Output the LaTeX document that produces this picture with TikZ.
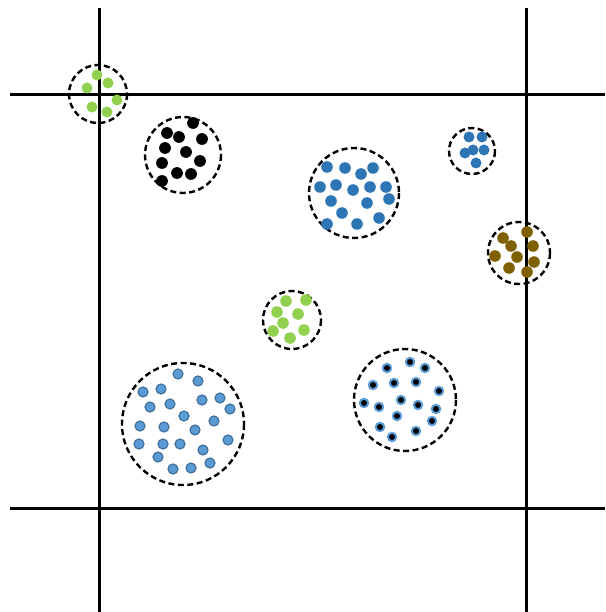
\documentclass[tikz,border=0pt]{standalone}
\usepackage{amsmath,amssymb}
\usepackage{tikz}

\definecolor{lgreen}{RGB}{146,208,80}
\definecolor{mblue}{RGB}{46,117,182}
\definecolor{pblue}{RGB}{91,155,213}
\definecolor{oblue}{RGB}{65,113,156}
\definecolor{brown}{RGB}{127,96,0}

\begin{document}
\begin{tikzpicture}[x=1pt,y=-1pt,
  cluster/.style={draw=black,line width=2.4pt,dash pattern=on 6pt off 3.5pt},
  grid/.style={draw=black,line width=3pt}]
\useasboundingbox (0,0) rectangle (605,612);
% cells
\draw[grid] (99,8) -- (99,612);
\draw[grid] (526,8) -- (526,612);
\draw[grid] (10,95) -- (605,95);
\draw[grid] (10,508) -- (605,508);
% dashed clusters
\draw[cluster] (98,94) circle (29);
\draw[cluster] (183,155) circle (38);
\draw[cluster] (354,193) circle (45);
\draw[cluster] (472,151) circle (23);
\draw[cluster] (519,253) circle (31);
\draw[cluster] (292,320) circle (29);
\draw[cluster] (183,424) circle (61);
\draw[cluster] (405,400) circle (51);
% points
\foreach \p in {(97,75),(108,83),(87,88),(117,100),(92,107),(107,112)}
  \fill[lgreen] \p circle (5.5);
\foreach \p in {(193,123),(167,133),(179,137),(202,139),(165,148),(186,152),
  (162,163),(200,161),(177,173),(191,174),(162,181)}
  \fill[black] \p circle (5.9);
\foreach \p in {(327,167),(345,168),(361,174),(373,168),(320,187),(336,185),
  (353,190),(370,187),(386,187),(331,201),(367,203),(389,199),(342,213),
  (379,218),(327,224),(357,224)}
  \fill[mblue] \p circle (5.8);
\foreach \p in {(469,137),(482,137),(465,153),(473,150),(484,150),(476,163)}
  \fill[mblue] \p circle (5.5);
\foreach \p in {(503,238),(527,232),(511,246),(533,246),(495,256),(517,257),
  (534,262),(509,268),(527,272)}
  \fill[brown] \p circle (5.8);
\foreach \p in {(286,301),(306,300),(277,312),(298,314),(283,323),(304,330),
  (273,331),(290,338)}
  \fill[lgreen] \p circle (5.8);
\foreach \p in {(178,374),(198,381),(143,392),(161,389),(150,407),(170,404),
  (202,400),(220,398),(230,409),(184,416),(214,421),(140,426),(164,427),
  (195,430),(228,440),(139,444),(163,444),(180,444),(203,450),(158,457),
  (173,469),(191,468),(210,463)}
  \filldraw[fill=pblue,draw=oblue,line width=1.2pt] \p circle (5);
\foreach \p in {(410,362),(387,368),(425,368),(373,385),(394,383),(416,382),
  (439,391),(364,403),(379,407),(401,400),(418,405),(436,409),(397,416),
  (432,421),(380,427),(416,431),(392,437)}
  \filldraw[fill=black,draw=pblue,line width=2pt] \p circle (4.2);
\end{tikzpicture}
\end{document}
